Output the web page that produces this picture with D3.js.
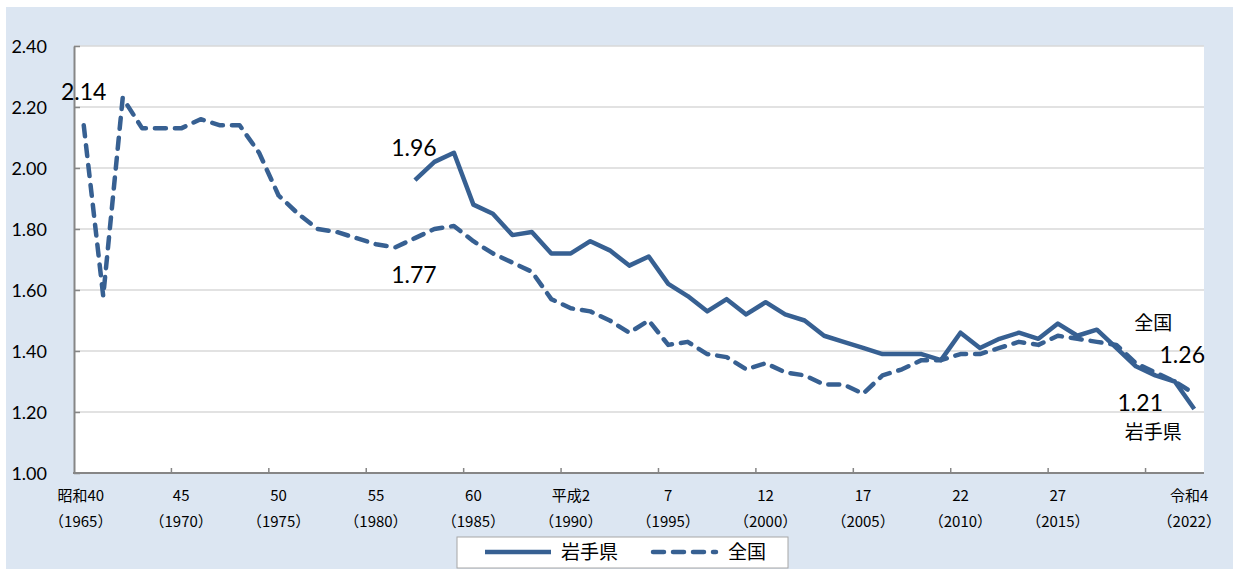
<!DOCTYPE html>
<html lang="ja">
<head>
<meta charset="utf-8" />
<title>合計特殊出生率の推移</title>
<script src="https://d3js.org/d3.v7.min.js"></script>
<style>
    body { margin: 0; background: #fff; }
    svg { display: block; }
</style>
</head>
<body>
<script>
    // years 1965 - 2022
    var years = d3.range(1965, 2023);

    // 岩手県 (data from 1982)
    var iwate = [null, null, null, null, null, null, null, null, null, null,
        null, null, null, null, null, null, null, 1.96, 2.02, 2.05,
        1.88, 1.85, 1.78, 1.79, 1.72, 1.72, 1.76, 1.73, 1.68, 1.71,
        1.62, 1.58, 1.53, 1.57, 1.52, 1.56, 1.52, 1.50, 1.45, 1.43,
        1.41, 1.39, 1.39, 1.39, 1.37, 1.46, 1.41, 1.44, 1.46, 1.44,
        1.49, 1.45, 1.47, 1.41, 1.35, 1.32, 1.30, 1.21];

    // 全国
    var national = [2.14, 1.58, 2.23, 2.13, 2.13, 2.13, 2.16, 2.14, 2.14, 2.05,
        1.91, 1.85, 1.80, 1.79, 1.77, 1.75, 1.74, 1.77, 1.80, 1.81,
        1.76, 1.72, 1.69, 1.66, 1.57, 1.54, 1.53, 1.50, 1.46, 1.50,
        1.42, 1.43, 1.39, 1.38, 1.34, 1.36, 1.33, 1.32, 1.29, 1.29,
        1.26, 1.32, 1.34, 1.37, 1.37, 1.39, 1.39, 1.41, 1.43, 1.42,
        1.45, 1.44, 1.43, 1.42, 1.36, 1.33, 1.30, 1.26];

    var yTicks = [1.00, 1.20, 1.40, 1.60, 1.80, 2.00, 2.20, 2.40];

    // x labels (era year / western year)
    var labelYears = [1965, 1970, 1975, 1980, 1985, 1990, 1995, 2000, 2005, 2010, 2015, 2022];
    var labelEra = ["昭和40", "45", "50", "55", "60", "平成2", "7", "12", "17", "22", "27", "令和4"];

    var w = 1233, h = 569;
    var pL = 74, pR = 1204, pT = 46, pB = 473;
    var blue = "#376092";
    var jpFont = "'Noto Sans CJK JP', sans-serif";
    var numFont = "Lato, 'Open Sans', sans-serif";

    var svg = d3.select("body").append("svg")
        .attr("width", w)
        .attr("height", h);

    // backgrounds
    svg.append("rect").attr("x", 6).attr("y", 7)
        .attr("width", w - 6).attr("height", h - 7)
        .attr("fill", "#dce6f2");
    svg.append("rect").attr("x", pL).attr("y", pT)
        .attr("width", pR - pL).attr("height", pB - pT)
        .attr("fill", "#fff");

    var xScale = d3.scaleBand()
        .domain(years)
        .range([pL, pR])
        .padding(0);
    var cx = function (yr) { return xScale(yr) + xScale.bandwidth() / 2; };

    var yScale = d3.scaleLinear()
        .domain([1.0, 2.4])
        .range([pB, pT]);

    // gridlines
    svg.append("g").selectAll("line")
        .data(yTicks.slice(1))
        .enter()
        .append("line")
        .attr("x1", pL).attr("x2", pR)
        .attr("y1", function (d) { return yScale(d); })
        .attr("y2", function (d) { return yScale(d); })
        .attr("stroke", "#d9d9d9")
        .attr("stroke-width", 1.5);

    // y axis
    var yAxis = d3.axisLeft(yScale)
        .tickValues(yTicks)
        .tickFormat(d3.format(".2f"))
        .tickSizeInner(-6)
        .tickSizeOuter(0)
        .tickPadding(27);
    var gy = svg.append("g")
        .attr("transform", "translate(" + pL + ",0)")
        .call(yAxis);
    gy.select(".domain").attr("stroke", "#868686").attr("stroke-width", 2);
    gy.selectAll(".tick line").attr("stroke", "#868686").attr("stroke-width", 1.5);
    gy.selectAll(".tick text")
        .attr("font-family", numFont)
        .attr("font-size", "18px")
        .attr("fill", "#000")
        .attr("dy", "0.35em");

    // x axis line and ticks (every 5 years, on band boundaries)
    svg.append("line")
        .attr("x1", pL - 1).attr("x2", pR)
        .attr("y1", pB).attr("y2", pB)
        .attr("stroke", "#868686").attr("stroke-width", 2);
    svg.append("g").selectAll("line")
        .data(years.filter(function (d) { return (d - 1965) % 5 === 0 && d > 1965; }))
        .enter()
        .append("line")
        .attr("x1", function (d) { return xScale(d); })
        .attr("x2", function (d) { return xScale(d); })
        .attr("y1", pB).attr("y2", pB - 5)
        .attr("stroke", "#868686").attr("stroke-width", 1.5);

    // x labels
    var xl = svg.append("g").selectAll("text")
        .data(labelYears)
        .enter()
        .append("text")
        .attr("text-anchor", "middle")
        .attr("font-family", jpFont)
        .attr("font-size", "15px")
        .attr("fill", "#000");
    var lx = function (d, i) { return cx(d) - (i === 0 ? 3 : (i === labelYears.length - 1 ? 5 : 0)); };
    xl.append("tspan")
        .attr("x", lx)
        .attr("y", 501)
        .text(function (d, i) { return labelEra[i]; });
    xl.append("tspan")
        .attr("x", lx)
        .attr("y", 527)
        .text(function (d) { return "（" + d + "）"; });

    // lines
    var line = d3.line()
        .defined(function (d) { return d[1] != null; })
        .x(function (d) { return cx(d[0]); })
        .y(function (d) { return yScale(d[1]); });

    svg.append("path")
        .datum(years.map(function (y, i) { return [y, national[i]]; }))
        .attr("d", line)
        .attr("fill", "none")
        .attr("stroke", blue)
        .attr("stroke-width", 4.5)
        .attr("stroke-linecap", "round")
        .attr("stroke-linejoin", "round")
        .attr("stroke-dasharray", "11,9");

    svg.append("path")
        .datum(years.map(function (y, i) { return [y, iwate[i]]; }))
        .attr("d", line)
        .attr("fill", "none")
        .attr("stroke", blue)
        .attr("stroke-width", 4.5)
        .attr("stroke-linejoin", "round");

    // annotations
    var ix = function (yr) { return years.indexOf(yr); };
    var notes = [
        { t: "2.14", x: cx(1965), y: yScale(national[ix(1965)]) - 25, f: numFont, s: 23 },
        { t: "1.96", x: cx(1982) - 1, y: yScale(iwate[ix(1982)]) - 24, f: numFont, s: 23 },
        { t: "1.77", x: cx(1982) - 1, y: yScale(national[ix(1982)]) + 45, f: numFont, s: 23 },
        { t: "全国", x: cx(2022) - 41, y: yScale(national[ix(2022)]) - 64, f: jpFont, s: 19 },
        { t: "1.26", x: cx(2022) - 12, y: yScale(national[ix(2022)]) - 31, f: numFont, s: 23 },
        { t: "1.21", x: cx(2022) - 54, y: yScale(iwate[ix(2022)]) + 2, f: numFont, s: 23 },
        { t: "岩手県", x: cx(2022) - 41, y: yScale(iwate[ix(2022)]) + 30, f: jpFont, s: 19 }
    ];
    svg.append("g").selectAll("text")
        .data(notes)
        .enter()
        .append("text")
        .attr("x", function (d) { return d.x; })
        .attr("y", function (d) { return d.y; })
        .attr("text-anchor", "middle")
        .attr("font-family", function (d) { return d.f; })
        .attr("font-size", function (d) { return d.s + "px"; })
        .attr("fill", "#000")
        .text(function (d) { return d.t; });

    // legend
    var lg = svg.append("g");
    lg.append("rect")
        .attr("x", 457).attr("y", 537)
        .attr("width", 331).attr("height", 31)
        .attr("fill", "#fff")
        .attr("stroke", "#a6a6a6");
    lg.append("line")
        .attr("x1", 485).attr("x2", 551).attr("y1", 552).attr("y2", 552)
        .attr("stroke", blue).attr("stroke-width", 4.5);
    lg.append("text")
        .attr("x", 561).attr("y", 559)
        .attr("font-family", jpFont).attr("font-size", "19px")
        .text("岩手県");
    lg.append("line")
        .attr("x1", 653).attr("x2", 716).attr("y1", 552).attr("y2", 552)
        .attr("stroke", blue).attr("stroke-width", 4.5)
        .attr("stroke-linecap", "round")
        .attr("stroke-dasharray", "11,9");
    lg.append("text")
        .attr("x", 728).attr("y", 559)
        .attr("font-family", jpFont).attr("font-size", "19px")
        .text("全国");
</script>
</body>
</html>
